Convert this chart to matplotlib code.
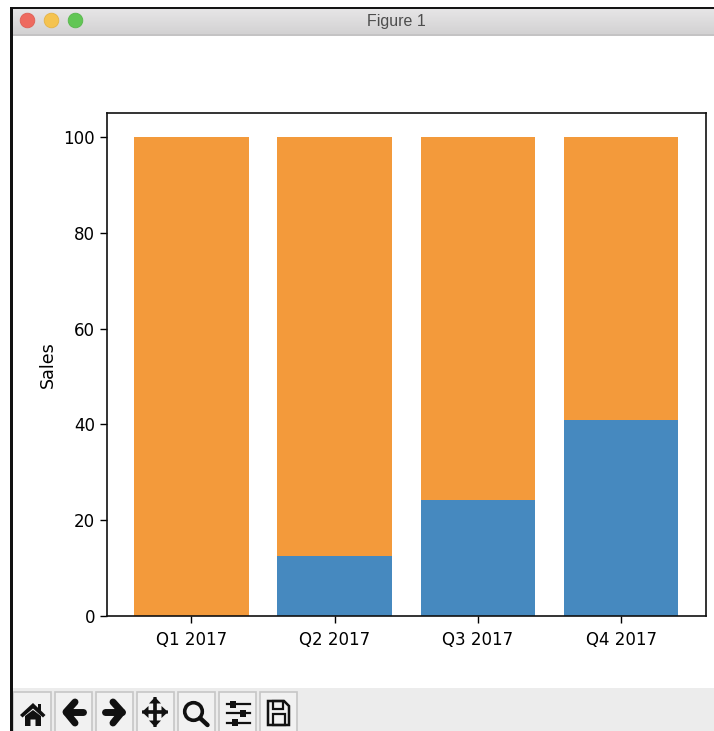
import matplotlib
matplotlib.use("Agg")
import matplotlib.pyplot as plt
from matplotlib.patches import Circle, Polygon, Rectangle, FancyArrow
import numpy as np

quarters = ["Q1 2017", "Q2 2017", "Q3 2017", "Q4 2017"]
blue_share = [0, 12.5, 24.2, 41]
orange_share = [100, 87.5, 75.8, 59]

W, H = 714, 731
fig = plt.figure(figsize=(W/100, H/100), dpi=100, facecolor="white")

# window chrome in pixel coordinates
c = fig.add_axes([0, 0, 1, 1], zorder=5)
c.axis("off"); c.patch.set_alpha(0)
grad = np.linspace(0, 1, 30)[:, None]
c.imshow(grad, extent=(12, W, 34, 9), cmap=matplotlib.colors.LinearSegmentedColormap.from_list("t", ["#e6e5e6", "#d3d2d3"]), aspect="auto", zorder=1)
c.set_xlim(0, W); c.set_ylim(H, 0)
c.add_patch(Rectangle((12, 34), W-12, 1.5, fc="#c4c3c4", ec="none", zorder=2))
c.add_patch(Rectangle((10, 6.5), W-10, 2.8, fc="#151515", ec="none", zorder=3))
c.add_patch(Rectangle((10, 6.5), 3, H, fc="#111111", ec="none", zorder=3))
for x, col, ed in [(27.5, "#ee6a5f", "#de5f55"), (51.5, "#f5c350", "#e5b344"), (75.5, "#62c655", "#58b64c")]:
    c.add_patch(Circle((x, 20.5), 7.3, fc=col, ec=ed, lw=0.6, zorder=4))
c.text(396, 21.5, "Figure 1", ha="center", va="center", fontsize=11.5, color="#4d4d4d",
       family="Liberation Sans", zorder=4)
c.add_patch(Rectangle((13, 688), W-13, H-688, fc="#ececec", ec="none", zorder=1))
K = "#111111"
for x0, x1 in [(13, 51), (55, 92), (95.5, 133), (137, 174), (178, 215), (219, 256), (260, 297)]:
    c.add_patch(Rectangle((x0, 692), x1-x0, 45, fc="#f1f1f1", ec="#c6c6c6", lw=1.2, zorder=2))
# home
c.add_patch(Polygon([(20, 715), (33, 703), (45.5, 715), (43, 717.5), (33, 708.5), (22.5, 717.5)], fc=K, ec="none", zorder=4))
c.add_patch(Polygon([(25, 716), (33, 710), (41, 716), (41, 726), (35.5, 726), (35.5, 719.5), (30.5, 719.5), (30.5, 726), (25, 726)], fc=K, ec="none", zorder=4))
c.add_patch(Rectangle((37.5, 704), 3.5, 7, fc=K, ec="none", zorder=4))
# back / forward
for px, py in [([66, 83], [712, 712]), ([75, 66, 75], [702, 712, 723])]:
    c.plot(px, py, color=K, lw=5, zorder=4, solid_capstyle="round", solid_joinstyle="round")
for px, py in [([105, 122], [712, 712]), ([113, 122, 113], [702, 712, 723])]:
    c.plot(px, py, color=K, lw=5, zorder=4, solid_capstyle="round", solid_joinstyle="round")
# move
c.add_patch(FancyArrow(142, 712, 26, 0, width=3.2, head_width=12, head_length=6.5, length_includes_head=True, fc=K, ec="none", zorder=4))
c.add_patch(FancyArrow(168, 712, -26, 0, width=3.2, head_width=12, head_length=6.5, length_includes_head=True, fc=K, ec="none", zorder=4))
c.add_patch(FancyArrow(155, 727, 0, -30, width=3.2, head_width=12, head_length=6.5, length_includes_head=True, fc=K, ec="none", zorder=4))
c.add_patch(FancyArrow(155, 697, 0, 30, width=3.2, head_width=12, head_length=6.5, length_includes_head=True, fc=K, ec="none", zorder=4))
# zoom
c.add_patch(Circle((193.5, 711.5), 8.8, fc="none", ec=K, lw=2.6, zorder=4))
c.plot([200, 207.5], [718, 725], color=K, lw=3.2, zorder=4, solid_capstyle="round")
# sliders
for y, xk in [(704, 233), (713, 243), (722.5, 235)]:
    c.plot([227, 250], [y, y], color=K, lw=1.6, zorder=4)
    c.add_patch(Rectangle((xk-3, y-3.5), 6, 7, fc=K, ec="none", zorder=4))
# save
c.add_patch(Polygon([(268, 701), (284, 701), (289, 706), (289, 725), (268, 725)], fc="none", ec=K, lw=1.8, zorder=4))
c.add_patch(Rectangle((272.5, 701), 10.5, 7.5, fc="none", ec=K, lw=1.6, zorder=4))
c.add_patch(Rectangle((272.5, 714), 12, 11, fc="none", ec=K, lw=1.6, zorder=4))

# chart
ax = fig.add_axes([107/W, 1-616/H, (705.5-107)/W, (616-113)/H], zorder=2)
x = np.arange(len(quarters))
ax.bar(x, blue_share, width=0.8, color="#4689bf")
ax.bar(x, orange_share, width=0.8, bottom=blue_share, color="#f39a3b")
ax.set_xlim(-0.59, 3.59)
ax.set_ylim(0, 105)
ax.set_xticks(x, quarters)
ax.set_ylabel("Sales", fontsize=12.6, labelpad=5)
ax.tick_params(labelsize=12, length=5, width=1)
ax.tick_params(axis="x", pad=6)
for s in ax.spines.values():
    s.set_linewidth(1.2); s.set_color("#111111")

fig.savefig("out.png", dpi=100)
